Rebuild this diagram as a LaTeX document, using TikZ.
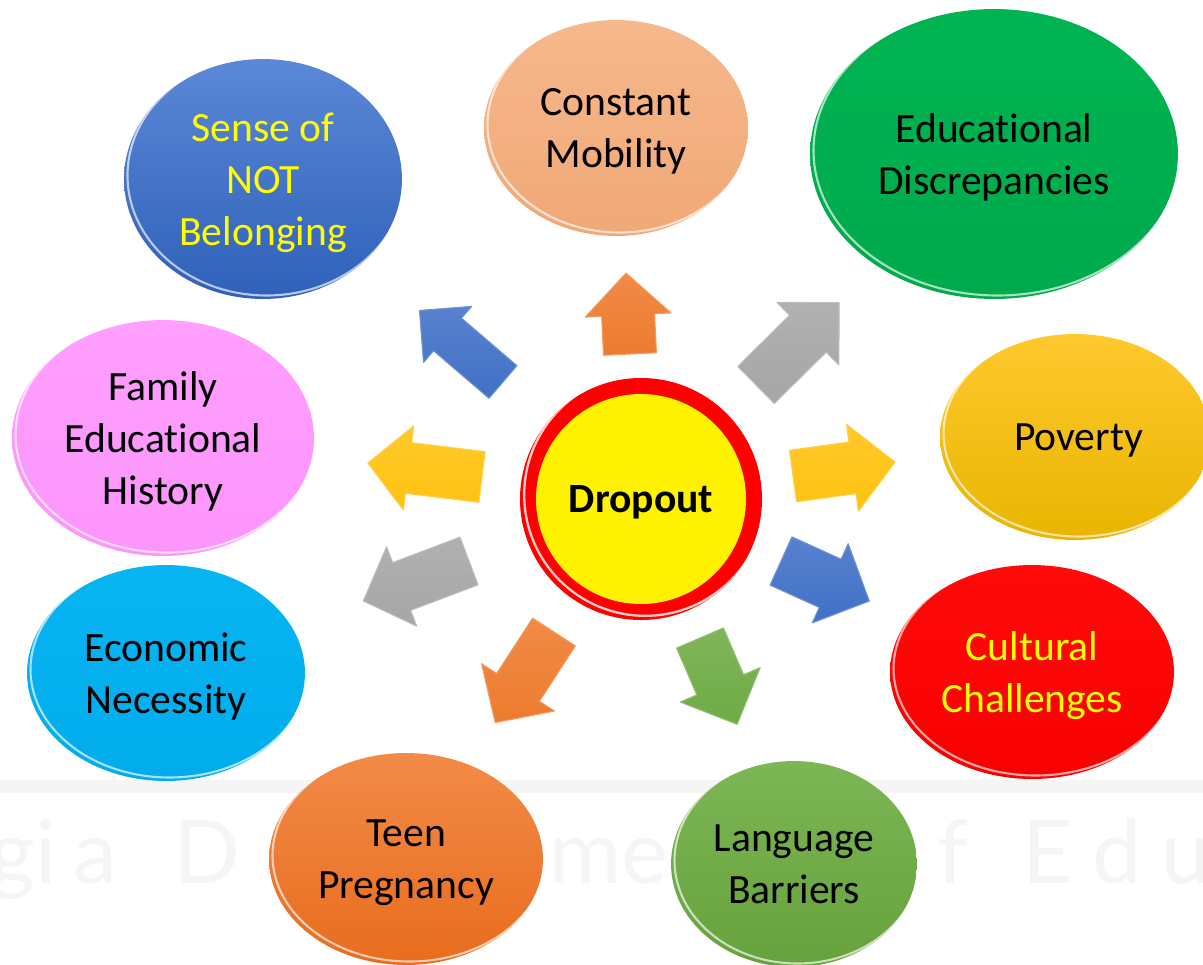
\documentclass[tikz,border=0pt]{standalone}
\usepackage{fontspec}
\setmainfont{Carlito}[Ligatures={NoCommon}]
\newfontfamily\markfont{Lato}
\usetikzlibrary{shapes.geometric}
\definecolor{senseT}{HTML}{5B88D7}
\definecolor{senseB}{HTML}{2F61B9}
\definecolor{mobilT}{HTML}{F6B88C}
\definecolor{mobilB}{HTML}{F0A877}
\definecolor{discrT}{HTML}{00B452}
\definecolor{discrB}{HTML}{00AA4C}
\definecolor{povT}{HTML}{FFC82E}
\definecolor{povB}{HTML}{E9B500}
\definecolor{cultT}{HTML}{FF0A0A}
\definecolor{cultB}{HTML}{F80000}
\definecolor{langT}{HTML}{7DB655}
\definecolor{langB}{HTML}{66A23C}
\definecolor{teenT}{HTML}{F28B48}
\definecolor{teenB}{HTML}{E86C1D}
\definecolor{econT}{HTML}{08B4F2}
\definecolor{econB}{HTML}{00ACEB}
\definecolor{famT}{HTML}{FF9FFF}
\definecolor{famB}{HTML}{FC94FC}
\definecolor{textY}{HTML}{FFFF00}
\definecolor{arrO}{HTML}{EE7B2E}
\definecolor{arrG}{HTML}{A6A6A6}
\definecolor{arrB}{HTML}{4170C6}
\definecolor{arrY}{HTML}{FFC20E}
\definecolor{arrN}{HTML}{6EAB44}
\definecolor{markG}{HTML}{F5F5F5}

\begin{document}
\begin{tikzpicture}[x=0.02cm, y=-0.02cm, line join=round,
  bub/.style n args={4}{ellipse, inner sep=0pt, text depth=0pt,
    minimum width=#1*0.04cm, minimum height=#2*0.04cm,
    top color=#3, bottom color=#4, align=center,
    font=\fontsize{23.7}{29.6}\selectfont,
    path picture={\draw[white, opacity=.65, line width=1.2pt]
      ([shift={(2pt,2pt)}]path picture bounding box.center)
      ellipse [x radius=#1*0.02cm, y radius=#2*0.02cm];}},
  wmletter/.style={text=markG, anchor=base, inner sep=0pt,
    font=\markfont\fontsize{50}{50}\selectfont}]
\useasboundingbox[fill=white] (0,0) rectangle (1203,964);
% 背景水印
\fill[markG] (0,780) rectangle (1203,793);
\foreach \ch/\cx [count=\i] in {g/12, i/46, a/95, D/207, m/586, e/645,
    f/953, E/1048, d/1117, u/1186}
  \node[wmletter] (wm\i) at (\cx,883) {\ch};
% 九个椭圆
\node[bub={139}{120}{senseT}{senseB}, text=textY] (sense) at (263,179) {Sense of\\NOT\\Belonging};
\node[bub={132}{108}{mobilT}{mobilB}] (mobil) at (616,128) {Constant\\Mobility};
\node[bub={184}{145}{discrT}{discrB}] (discr) at (994,154) {Educational\\Discrepancies};
\node[bub={135}{103}{povT}{povB}] (pov) at (1075,437) {\hspace*{4pt}Poverty};
\node[bub={142}{107}{cultT}{cultB}, text=textY] (cult) at (1032,672) {Cultural\\Challenges};
\node[bub={123}{103}{langT}{langB}] (lang) at (794,864) {Language\\Barriers};
\node[bub={137}{106}{teenT}{teenB}] (teen) at (406,859) {Teen\\Pregnancy};
\node[bub={139}{108}{econT}{econB}] (econ) at (166,673) {Economic\\Necessity};
\node[bub={151}{118}{famT}{famB}] (fam) at (163,438) {Family\\Educational\\History};
% 中心圆
\node[circle, inner sep=0pt, minimum size=242*0.02cm, fill=red,
  path picture={\draw[white, opacity=.8, line width=1.3pt]
    ([shift={(2.4pt,2.4pt)}]path picture bounding box.center) circle (121*0.02cm);}]
  (ring) at (641,499) {};
\node[circle, inner sep=0pt, minimum size=210*0.02cm, fill=yellow, text depth=0pt,
  font=\bfseries\fontsize{23.7}{29.6}\selectfont] (drop) at (ring) {Dropout};
% 块状箭头：尾部中点/方向/长度/杆宽/头宽/头长/颜色
\foreach \px/\py/\a/\l/\s/\h/\k/\c in {
    630/354/92.8/81/53/86/42/arrO,
    756/385/44.7/117/52/88/44/arrG,
    503/382/139.4/110/43/74/37/arrB,
    482/477/173/115/51/85/41/arrY,
    793/476/7.8/103/52/88/43/arrY,
    781/561/-24.4/97/53/87/43/arrB,
    700/638/-66.7/94/51/87/43/arrN,
    554/632/-123/108/51/87/42/arrO,
    469/561/-159.3/113/51/85/41/arrG}
{
  \begin{scope}[shift={(\px,\py)}, rotate=\a, x=0.02cm, y=0.02cm]
    \shade[top color=\c!88!white, bottom color=\c, draw=\c!75!white, line width=.6pt]
      (0,-\s/2) -- (\l-\k,-\s/2) -- (\l-\k,-\h/2) -- (\l,0)
      -- (\l-\k,\h/2) -- (\l-\k,\s/2) -- (0,\s/2) -- cycle;
  \end{scope}
}
\end{tikzpicture}
\end{document}
